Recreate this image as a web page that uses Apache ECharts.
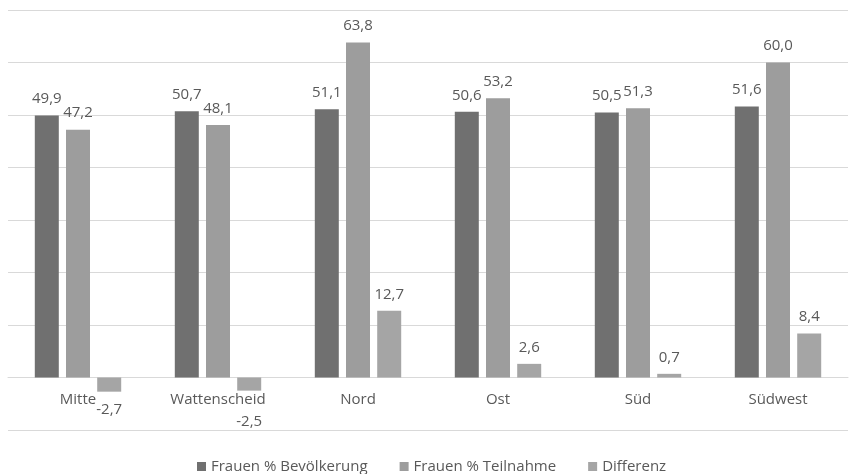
<!DOCTYPE html>
<html><head><meta charset="utf-8">
<script src="https://cdn.jsdelivr.net/npm/echarts@6/dist/echarts.min.js"></script>
<style>html,body{margin:0;padding:0;background:#fff}#c{width:849px;height:474px}</style>
</head><body><div id="c"></div>
<script>
const categories = ['Mitte', 'Wattenscheid', 'Nord', 'Ost', 'Süd', 'Südwest'];
const seriesNames = ['Frauen % Bevölkerung', 'Frauen % Teilnahme', 'Differenz'];
const bevoelkerung = [49.9, 50.7, 51.1, 50.6, 50.5, 51.6];
const teilnahme = [47.2, 48.1, 63.8, 53.2, 51.3, 60.0];
const differenz = [-2.7, -2.5, 12.7, 2.6, 0.7, 8.4];
const colors = ['#707070', '#9d9d9d', '#a5a5a5'];
const FONT = 'Open Sans';

const fmt = p => p.value.toFixed(1).replace('.', ',');
const labelBase = {show: true, position: 'top', distance: 9, color: '#595959', fontSize: 15, fontFamily: FONT, formatter: fmt};

function mkData(arr) {
  return arr.map((v, i) => {
    if (v < 0) {
      return {value: v, label: {position: 'bottom', distance: i === 1 ? 24 : 11}};
    }
    return v;
  });
}

const chart = echarts.init(document.getElementById('c'));
chart.setOption({
  animation: false,
  color: colors,
  grid: {left: 8, right: 1, top: 10, bottom: 44, containLabel: false},
  legend: {
    data: seriesNames, top: 454, left: 192, itemWidth: 9, itemHeight: 9, itemGap: 32,
    icon: 'rect', textStyle: {color: '#595959', fontSize: 15, fontFamily: FONT}
  },
  xAxis: {
    type: 'category', data: categories, position: 'bottom', offset: -52.5,
    axisLine: {show: true, onZero: false, lineStyle: {color: '#d9d9d9'}}, axisTick: {show: false},
    axisLabel: {color: '#595959', fontSize: 15, fontFamily: FONT, margin: 15}
  },
  yAxis: {
    type: 'value', min: -10, max: 70, interval: 10,
    axisLabel: {show: false}, axisLine: {show: false}, axisTick: {show: false},
    splitLine: {lineStyle: {color: '#d9d9d9', width: 1}}
  },
  series: [
    {name: seriesNames[0], type: 'bar', data: mkData(bevoelkerung), barWidth: 24, barGap: '30%', label: labelBase},
    {name: seriesNames[1], type: 'bar', data: mkData(teilnahme), barWidth: 24, barGap: '30%', label: labelBase},
    {name: seriesNames[2], type: 'bar', data: mkData(differenz), barWidth: 24, barGap: '30%', label: labelBase}
  ]
});
</script></body></html>
